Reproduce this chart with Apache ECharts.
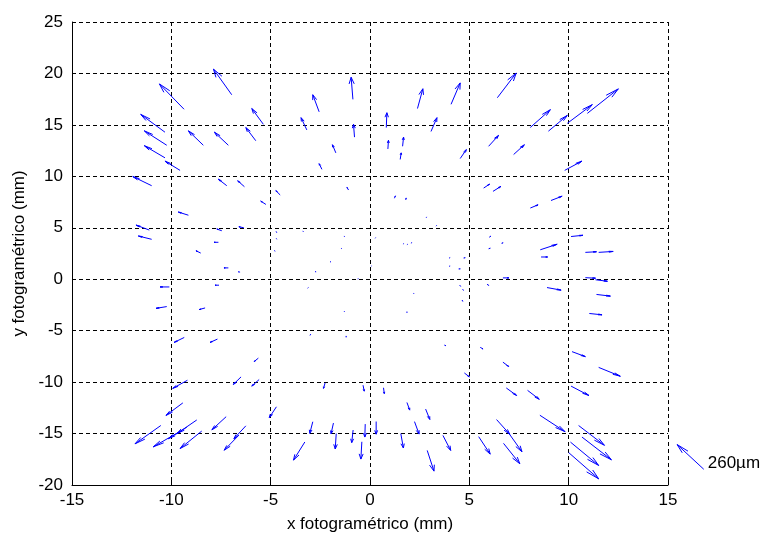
<!DOCTYPE html>
<html>
<head>
<meta charset="utf-8">
<script src="https://cdn.jsdelivr.net/npm/echarts@6/dist/echarts.min.js"></script>
<style>html,body{margin:0;padding:0;background:#fff}#c{width:763px;height:538px}</style>
</head>
<body>
<div id="c"></div>
<script>
// Axis ticks
const xTicks = [-15, -10, -5, 0, 5, 10, 15];
const yTicks = [-20, -15, -10, -5, 0, 5, 10, 15, 20, 25];

// Quiver arrows: [x, y, u, v] (tail position and vector, mm)
const quiverTop = [
  [-9.36, 16.52, -1.24, 2.46], [-6.96, 17.93, -0.92, 2.49], [-2.56, 16.27, -0.32, 1.66],
  [-0.86, 17.48, -0.09, 2.15], [2.39, 16.59, 0.27, 1.92], [4.08, 17.00, 0.46, 2.08],
  [6.41, 17.64, 0.95, 2.40], [10.94, 16.12, 1.56, 2.38], [9.93, 15.15, 1.26, 1.82],
  [8.98, 14.39, 0.95, 1.53], [8.07, 14.75, 1.01, 1.73], [-10.32, 14.29, -1.22, 1.73],
  [-10.23, 13.02, -1.13, 1.40], [-8.39, 13.02, -0.75, 1.40], [-7.13, 13.02, -0.70, 1.27],
  [-5.75, 13.46, -0.50, 1.28], [-5.37, 15.06, -0.58, 1.53], [-3.18, 14.51, -0.29, 1.19],
  [-0.78, 13.81, -0.05, 1.25], [0.82, 14.74, 0.03, 1.44], [3.07, 14.36, 0.30, 1.34],
  [-10.32, 11.80, -1.04, 1.18], [-9.56, 10.58, -0.76, 0.90], [-10.99, 9.09, -0.95, 0.89],
  [-1.72, 12.28, -0.17, 0.79], [-2.42, 10.68, -0.14, 0.55], [0.90, 12.66, 0.03, 0.84],
  [1.64, 12.92, 0.05, 0.89], [1.52, 11.64, 0.05, 0.64], [4.54, 11.73, 0.31, 0.87],
  [5.97, 12.92, 0.50, 1.06], [7.23, 12.12, 0.54, 0.95], [9.80, 10.58, 0.87, 0.90]
];
const quiverUpper = [
  [-7.21, 9.09, -0.42, 0.63], [-6.32, 8.99, -0.34, 0.58], [-4.52, 8.19, -0.22, 0.42],
  [-5.24, 7.27, -0.26, 0.32], [-9.14, 6.22, -0.51, 0.31], [-1.08, 8.67, -0.08, 0.26],
  [1.23, 7.87, 0.05, 0.23], [1.80, 7.70, 0.02, 0.20], [5.72, 8.86, 0.30, 0.38],
  [6.19, 8.54, 0.40, 0.48], [8.07, 6.92, 0.39, 0.31], [9.11, 7.65, 0.56, 0.42],
  [2.83, 5.99, 0.03, 0.06], [3.32, 5.16, 0.03, 0.06],
  [-11.11, 4.78, -0.67, 0.48], [-10.99, 3.88, -0.67, 0.32], [-7.46, 4.71, -0.25, 0.17],
  [-6.35, 5.00, -0.25, 0.10], [-7.63, 3.59, -0.22, 0.00], [-8.52, 2.54, -0.24, 0.23],
  [-7.13, 1.10, -0.22, 0.00], [-6.54, 0.69, -0.08, 0.03], [-4.69, 4.52, -0.03, 0.10],
  [-4.69, 3.88, -0.02, 0.07], [-4.78, 2.70, -0.02, 0.08], [-3.35, 4.62, -0.03, 0.06],
  [-1.28, 4.14, -0.03, 0.06], [-1.42, 2.96, -0.03, 0.05], [-1.97, 1.68, -0.04, 0.03],
  [-2.71, 0.72, -0.05, 0.02], [0.26, 3.98, 0.02, 0.05], [0.06, 1.26, 0.02, 0.03],
  [1.66, 3.40, 0.03, 0.05], [1.86, 3.35, 0.03, 0.04], [2.06, 3.50, 0.04, 0.05],
  [3.99, 2.06, 0.04, 0.04], [3.99, 1.26, 0.04, 0.02], [4.71, 2.06, 0.08, 0.03],
  [4.46, 1.00, 0.08, 0.01], [5.97, 2.96, 0.08, 0.05], [6.00, 4.08, 0.08, 0.10],
  [6.62, 3.49, 0.08, 0.05], [8.61, 2.16, 0.33, 0.00], [8.57, 2.86, 0.85, 0.54],
  [10.12, 4.15, 0.60, 0.12], [10.84, 2.61, 0.56, 0.06], [11.51, 2.61, 0.73, 0.09]
];
const quiverMiddle = [
  [-10.10, -0.75, -0.47, 0.00], [-7.60, -0.58, -0.20, 0.00], [-10.23, -2.66, -0.54, -0.17],
  [-8.30, -2.79, -0.30, -0.16], [-3.10, -0.81, -0.03, -0.05], [-1.28, -3.11, -0.02, -0.06],
  [-0.58, 0.05, -0.03, -0.01], [2.19, -1.35, 0.02, -0.06], [1.86, -3.14, 0.00, -0.10],
  [4.51, -0.58, 0.05, -0.10], [4.66, -0.97, 0.04, -0.10], [4.63, -2.02, 0.04, -0.12],
  [5.89, -0.49, 0.08, -0.10], [6.69, 0.13, 0.30, 0.00], [8.91, -0.81, 0.71, -0.25],
  [10.84, 0.15, 0.51, -0.05], [11.35, -0.05, 0.60, -0.15], [11.40, -1.48, 0.70, -0.16],
  [11.04, -3.33, 0.64, -0.13],
  [-9.35, -5.66, -0.51, -0.48], [-7.68, -5.82, -0.37, -0.32], [-5.62, -7.67, -0.21, -0.33],
  [-2.98, -5.34, -0.04, -0.10], [-1.20, -5.51, 0.00, -0.12], [3.74, -6.40, 0.08, -0.06],
  [5.55, -6.62, 0.14, -0.16], [6.69, -8.06, 0.29, -0.42], [10.17, -7.04, 0.67, -0.48],
  [11.51, -8.57, 1.09, -0.86], [4.75, -9.11, 0.25, -0.38]
];
const quiverLower = [
  [-9.19, -9.82, -0.74, -0.79], [-6.49, -9.49, -0.39, -0.74], [-5.58, -9.75, -0.37, -0.64],
  [-9.42, -12.02, -0.85, -1.22], [-4.71, -12.40, -0.36, -1.05], [-2.26, -10.07, -0.08, -0.54],
  [-0.35, -10.30, 0.06, -0.58], [0.68, -10.55, 0.04, -0.57], [1.86, -11.98, 0.14, -0.74],
  [2.80, -12.62, 0.21, -1.01], [2.24, -13.84, 0.23, -1.21], [6.86, -10.57, 0.52, -0.73],
  [7.93, -10.80, 0.59, -0.87], [10.12, -10.39, 0.90, -0.91], [8.55, -13.22, 1.27, -1.60],
  [6.37, -13.64, 0.66, -1.42], [6.98, -14.95, 0.67, -1.82]
];
const quiverBottom = [
  [10.50, -14.22, 1.30, -1.92], [10.67, -15.34, 1.48, -2.21], [10.09, -15.83, 1.42, -2.27],
  [10.00, -16.85, 1.51, -2.55], [5.47, -15.30, 0.58, -1.70], [6.72, -15.95, 0.82, -1.98],
  [3.67, -15.18, 0.39, -1.46], [2.88, -16.64, 0.34, -2.01], [1.55, -15.00, 0.13, -1.40],
  [0.31, -13.83, 0.00, -1.23], [-0.41, -15.80, -0.05, -1.68], [-0.24, -14.08, -0.02, -1.26],
  [-0.85, -14.66, -0.07, -1.22], [-1.70, -15.00, -0.05, -1.50], [-1.84, -13.98, -0.12, -1.04],
  [-2.88, -13.85, -0.15, -1.13], [-3.28, -15.82, -0.57, -1.76],
  [-10.53, -14.22, -1.30, -1.78], [-9.48, -14.70, -1.43, -1.59], [-9.22, -14.38, -0.93, -1.12],
  [-8.72, -13.68, -1.01, -1.34], [-8.47, -14.76, -1.09, -1.70], [-7.24, -13.36, -0.72, -1.28],
  [-6.25, -14.25, -0.60, -1.25], [-6.62, -15.20, -0.72, -1.42]
];
// Reference (scale) arrow drawn outside the axes
const scaleArrow = [[16.80, -18.47, -1.34, 2.40]];
const scaleLabel = '260µm';

const ARROW_COLOR = '#0000ff';
const FONT = "'Liberation Sans', Arial, sans-serif";

function arrowShapes(api) {
  const x = api.value(0), y = api.value(1), u = api.value(2), v = api.value(3);
  const a = 0.3, b = 0.2;
  const tx = x + u, ty = y + v;
  const p0 = api.coord([x, y]);
  const p1 = api.coord([tx, ty]);
  const h1 = api.coord([tx - a * (u + b * v), ty - a * (v - b * u)]);
  const h2 = api.coord([tx - a * (u - b * v), ty - a * (v + b * u)]);
  const style = { stroke: ARROW_COLOR, lineWidth: 1, fill: null };
  return {
    p0: p0,
    children: [
      { type: 'polyline', shape: { points: [p0, p1] }, style: style },
      { type: 'polyline', shape: { points: [h1, p1, h2] }, style: style }
    ]
  };
}

function renderArrow(params, api) {
  const s = arrowShapes(api);
  return { type: 'group', children: s.children };
}

function renderScale(params, api) {
  const s = arrowShapes(api);
  s.children.push({
    type: 'text',
    x: s.p0[0] + 4, y: s.p0[1] - 6,
    style: { text: scaleLabel, fill: '#000', font: '17px ' + FONT, textVerticalAlign: 'middle', textAlign: 'left' }
  });
  return { type: 'group', children: s.children };
}

const allArrows = [].concat(quiverTop, quiverUpper, quiverMiddle, quiverLower, quiverBottom);

const axisCommon = {
  type: 'value',
  nameLocation: 'middle',
  nameTextStyle: { color: '#000', fontSize: 17, fontFamily: FONT },
  axisLine: { show: true, onZero: false, lineStyle: { color: '#000', width: 1 } },
  axisTick: { show: true, inside: true, length: 4, lineStyle: { color: '#000' } },
  axisLabel: { color: '#000', fontSize: 17, fontFamily: FONT },
  splitLine: { show: true, lineStyle: { color: '#000', width: 1, type: [4, 3] } }
};

const chart = echarts.init(document.getElementById('c'));
chart.setOption({
  animation: false,
  backgroundColor: '#fff',
  grid: { left: 72, right: 95, top: 22, bottom: 47, containLabel: false },
  xAxis: Object.assign({}, axisCommon, {
    min: xTicks[0], max: xTicks[xTicks.length - 1], interval: xTicks[1] - xTicks[0],
    name: 'x fotogramétrico (mm)', nameGap: 31,
    axisLabel: Object.assign({}, axisCommon.axisLabel, { margin: 7 })
  }),
  yAxis: Object.assign({}, axisCommon, {
    min: yTicks[0], max: yTicks[yTicks.length - 1], interval: yTicks[1] - yTicks[0],
    name: 'y fotogramétrico (mm)', nameGap: 42,
    axisLabel: Object.assign({}, axisCommon.axisLabel, { margin: 9 })
  }),
  series: [
    { type: 'custom', renderItem: renderArrow, data: allArrows, encode: { x: 0, y: 1 }, clip: true, silent: true },
    { type: 'custom', renderItem: renderScale, data: scaleArrow, encode: { x: 0, y: 1 }, clip: false, silent: true }
  ]
});
</script>
</body>
</html>
